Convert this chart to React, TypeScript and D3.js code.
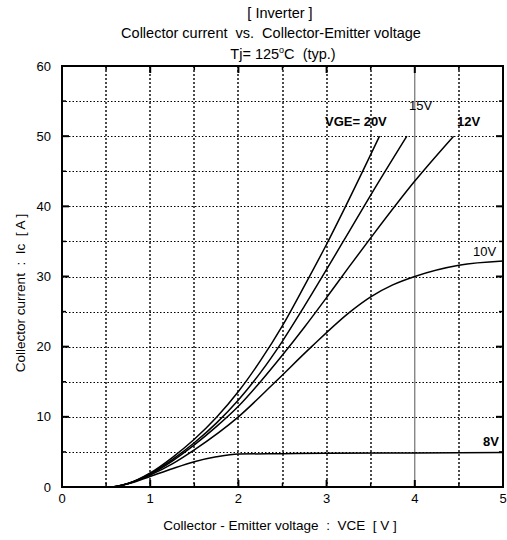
import React from "react";
import * as d3 from "d3";

const xTicks = [0, 1, 2, 3, 4, 5];
const yTicks = [0, 10, 20, 30, 40, 50, 60];
const xGrid = [0.5, 1, 1.5, 2, 2.5, 3, 3.5, 4.5];
const yGrid = [5, 10, 15, 20, 25, 30, 35, 40, 45, 50, 55];

const curve20V: [number, number][] = [
  [0, 0], [0.55, 0], [0.75, 0.5], [1.0, 2.0], [1.25, 4.2], [1.5, 6.8], [1.75, 9.9], [2.0, 13.6],
  [2.25, 18.0], [2.5, 23.0], [2.75, 28.7], [3.0, 34.6], [3.2, 39.6], [3.6, 50],
];
const curve15V: [number, number][] = [
  [0, 0], [0.55, 0], [0.75, 0.5], [1.0, 1.9], [1.25, 3.9], [1.5, 6.3], [1.75, 9.1], [2.0, 12.4],
  [2.25, 16.3], [2.5, 20.8], [2.75, 25.8], [3.0, 31.0], [3.25, 36.3], [3.5, 41.6], [3.91, 50],
];
const curve12V: [number, number][] = [
  [0, 0], [0.55, 0], [0.75, 0.5], [1.0, 1.8], [1.25, 3.7], [1.5, 6.0], [1.75, 8.6], [2.0, 11.5],
  [2.25, 15.0], [2.5, 18.8], [2.75, 22.8], [3.0, 27.0], [3.25, 31.3], [3.5, 35.5], [4.0, 43.6], [4.44, 50],
];
const curve10V: [number, number][] = [
  [0, 0], [0.55, 0], [0.75, 0.5], [1.0, 1.7], [1.25, 3.3], [1.5, 5.3], [2.0, 10], [2.42, 15],
  [2.83, 20], [3.27, 25], [3.5, 27.1], [3.75, 28.8], [4.0, 30], [4.5, 31.6], [5.0, 32.2],
];
const curve8V: [number, number][] = [
  [0, 0], [0.55, 0], [0.75, 0.45], [1.0, 1.5], [1.25, 2.6], [1.5, 3.6], [1.75, 4.3], [2.0, 4.7],
  [2.5, 4.75], [3.0, 4.8], [4.0, 4.85], [5.0, 4.9],
];

const series = [
  { name: "20V", pts: curve20V },
  { name: "15V", pts: curve15V },
  { name: "12V", pts: curve12V },
  { name: "10V", pts: curve10V },
  { name: "8V", pts: curve8V },
];

const FONT = "'Liberation Sans', Arial, sans-serif";

export default function App() {
  const W = 507, H = 540;
  const x = d3.scaleLinear().domain([0, 5]).range([62, 503]);
  const y = d3.scaleLinear().domain([0, 60]).range([487, 66]);
  const py = (v: number) => Math.round(y(v)) + 0.5;
  const line = d3
    .line<[number, number]>()
    .x((d) => x(d[0]))
    .y((d) => y(d[1]))
    .curve(d3.curveMonotoneX);

  const minorX = d3.range(0.5, 5, 1);
  const minorY = d3.range(5, 60, 10);

  return (
    <svg
      width={W}
      height={H}
      style={{ position: "absolute", left: 0, top: 0, background: "#fff" }}
      fontFamily={FONT}
    >
      <rect x={0} y={0} width={W} height={H} fill="#fff" />
      {/* titles */}
      <text x={280} y={18} textAnchor="middle" fontSize={14.5}>[ Inverter ]</text>
      <text x={271} y={38} textAnchor="middle" fontSize={14.5} style={{ whiteSpace: "pre" }}>
        {"Collector current  vs.  Collector-Emitter voltage"}
      </text>
      <text x={283} y={59} textAnchor="middle" fontSize={14.5} style={{ whiteSpace: "pre" }}>
        <tspan>Tj= 125</tspan>
        <tspan dy={-6} fontSize={9}>o</tspan>
        <tspan dy={6}>{"C  (typ.)"}</tspan>
      </text>

      {/* grid */}
      {xGrid.map((v) => (
        <line
          key={"gx" + v}
          x1={Math.round(x(v))}
          x2={Math.round(x(v))}
          y1={y(60)}
          y2={y(0)}
          stroke="#000"
          strokeWidth={1.4}
          strokeDasharray="2,2"
        />
      ))}
      {yGrid.map((v) => (
        <line
          key={"gy" + v}
          x1={x(0)}
          x2={x(5)}
          y1={py(v)}
          y2={py(v)}
          stroke="#000"
          strokeWidth={1}
          strokeDasharray="1.5,2"
        />
      ))}
      <line x1={x(4)} x2={x(4)} y1={y(60)} y2={y(0)} stroke="#555" strokeWidth={1} />

      {/* ticks */}
      {xTicks.slice(1, -1).map((v) => (
        <g key={"tx" + v}>
          <line x1={x(v)} x2={x(v)} y1={y(0)} y2={y(0) - 7} stroke="#000" strokeWidth={2} />
          <line x1={x(v)} x2={x(v)} y1={y(60)} y2={y(60) + 7} stroke="#000" strokeWidth={2} />
        </g>
      ))}
      {minorX.map((v) => (
        <g key={"mx" + v}>
          <line x1={x(v)} x2={x(v)} y1={y(0)} y2={y(0) - 4} stroke="#000" strokeWidth={1.5} />
          <line x1={x(v)} x2={x(v)} y1={y(60)} y2={y(60) + 4} stroke="#000" strokeWidth={1.5} />
        </g>
      ))}
      {yTicks.slice(1, -1).map((v) => (
        <g key={"ty" + v}>
          <line x1={x(0)} x2={x(0) + 7} y1={y(v)} y2={y(v)} stroke="#000" strokeWidth={2} />
          <line x1={x(5)} x2={x(5) - 7} y1={y(v)} y2={y(v)} stroke="#000" strokeWidth={2} />
        </g>
      ))}
      {minorY.map((v) => (
        <g key={"my" + v}>
          <line x1={x(0)} x2={x(0) + 4} y1={y(v)} y2={y(v)} stroke="#000" strokeWidth={1.5} />
          <line x1={x(5)} x2={x(5) - 4} y1={y(v)} y2={y(v)} stroke="#000" strokeWidth={1.5} />
        </g>
      ))}

      {/* frame */}
      <rect x={x(0)} y={y(60)} width={x(5) - x(0)} height={y(0) - y(60)} fill="none" stroke="#000" strokeWidth={2} />

      {/* curves */}
      {series.map((s) => (
        <path key={s.name} d={line(s.pts) || ""} fill="none" stroke="#000" strokeWidth={1.5} />
      ))}

      {/* curve labels */}
      <text x={325} y={126} fontSize={13} fontWeight="bold">VGE= 20V</text>
      <text x={409} y={110} fontSize={13}>15V</text>
      <text x={457} y={126} fontSize={13} fontWeight="bold">12V</text>
      <text x={473} y={256} fontSize={13}>10V</text>
      <text x={483} y={446} fontSize={13} fontWeight="bold">8V</text>

      {/* tick labels */}
      {xTicks.map((v) => (
        <text key={"lx" + v} x={x(v)} y={503} textAnchor="middle" fontSize={13}>{v}</text>
      ))}
      {yTicks.map((v) => (
        <text key={"ly" + v} x={51} y={y(v) + 4.5} textAnchor="end" fontSize={13}>{v}</text>
      ))}

      {/* axis titles */}
      <text x={280} y={530} textAnchor="middle" fontSize={13.5} style={{ whiteSpace: "pre" }}>
        {"Collector - Emitter voltage  :  VCE  [ V ]"}
      </text>
      <text
        transform="translate(25,293) rotate(-90)"
        textAnchor="middle"
        fontSize={13.5}
        style={{ whiteSpace: "pre" }}
      >
        {"Collector current  :  Ic  [ A ]"}
      </text>
    </svg>
  );
}
